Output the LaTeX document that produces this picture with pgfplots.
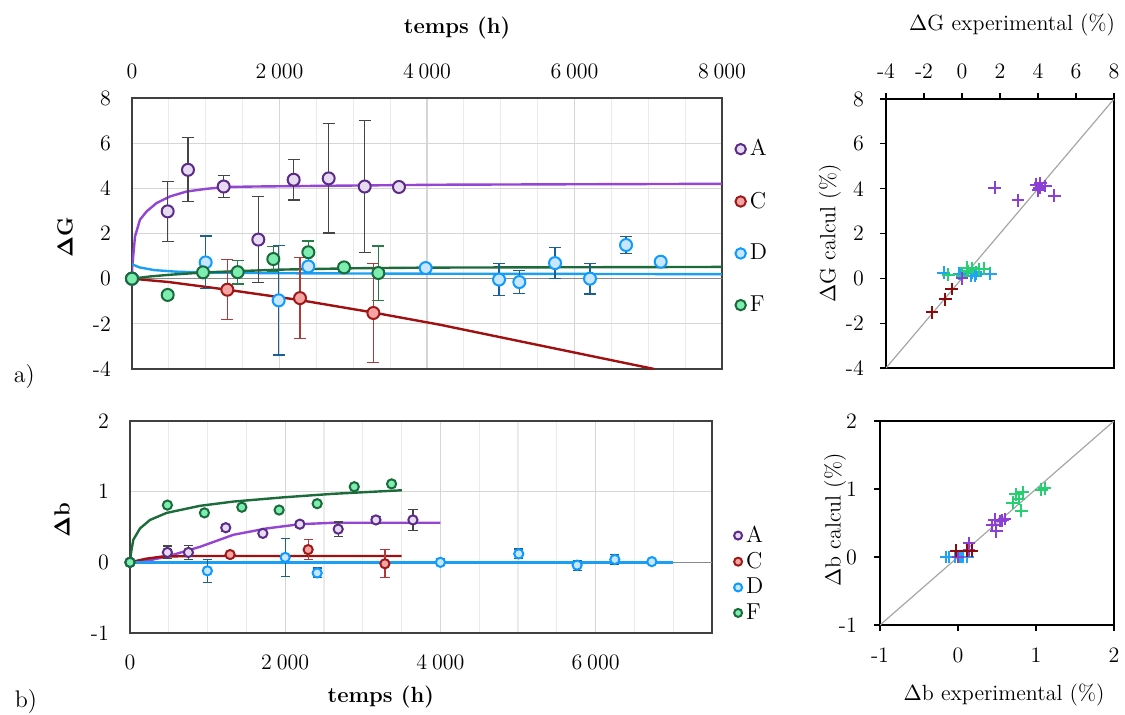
\documentclass[border=0pt]{standalone}
\usepackage{pgfplots}
\pgfplotsset{compat=1.18}
\definecolor{Aline}{HTML}{9445D4}
\definecolor{Aedge}{HTML}{5C2A87}
\definecolor{Afill}{HTML}{E6DBF1}
\definecolor{Aerr}{HTML}{454545}
\definecolor{Cline}{HTML}{A01010}
\definecolor{Cedge}{HTML}{9E1A1A}
\definecolor{Cfill}{HTML}{F5A3A3}
\definecolor{Cerr}{HTML}{B03A3A}
\definecolor{Dline}{HTML}{1A9FF2}
\definecolor{Dedge}{HTML}{0E9BFF}
\definecolor{Dfill}{HTML}{C8E6FF}
\definecolor{Derr}{HTML}{1D5F93}
\definecolor{Fline}{HTML}{1C6B3A}
\definecolor{Fedge}{HTML}{1A6B3C}
\definecolor{Ffill}{HTML}{7DEDB0}
\definecolor{Ferr}{HTML}{2A7A4A}
\definecolor{SA}{HTML}{8B3FD5}
\definecolor{SC}{HTML}{8B0A0A}
\definecolor{SD}{HTML}{1FA3F2}
\definecolor{SF}{HTML}{25D070}
\definecolor{zeroline}{HTML}{8A8A8A}

\pgfplotsset{
  timeaxis/.style={
    scale only axis, anchor=south west,
    grid=both,
    major grid style={draw=black!16, line width=0.6pt},
    minor grid style={draw=black!8, line width=0.6pt},
    axis line style={draw=black!75, line width=0.7pt},
    major tick length=0pt, minor tick length=0pt,
    tick label style={font=\fontsize{11}{12}\selectfont},
    /pgf/number format/assume math mode=true,
    /pgf/number format/1000 sep={\hspace{0.22em}},
    label style={font=\fontsize{11}{12}\selectfont},
    legend style={draw=none, fill=none, font=\fontsize{11.5}{12}\selectfont},
    legend cell align=left,
    legend image code/.code={\draw[#1] plot coordinates {(0.12cm,0cm)};},
    clip=true,
  },
  scataxis/.style={
    scale only axis, anchor=south west,
    tick align=outside, major tick length=3pt,
    tick style={draw=black, line width=0.6pt},
    axis line style={draw=black, line width=0.6pt},
    tick label style={font=\fontsize{11}{12}\selectfont},
    /pgf/number format/assume math mode=true,
    label style={font=\fontsize{11}{12}\selectfont},
    clip=true,
  },
  mkA/.style={only marks, mark=*, mark size=#1, mark options={fill=Afill, draw=Aedge, line width=1pt}},
  mkC/.style={only marks, mark=*, mark size=#1, mark options={fill=Cfill, draw=Cedge, line width=1pt}},
  mkD/.style={only marks, mark=*, mark size=#1, mark options={fill=Dfill, draw=Dedge, line width=1pt}},
  mkF/.style={only marks, mark=*, mark size=#1, mark options={fill=Ffill, draw=Fedge, line width=1pt}},
}

\begin{document}
\begin{tikzpicture}
\path[use as bounding box] (0pt,0pt) rectangle (562.5pt,357pt);

% ---------------- a) Delta G vs time ----------------
\begin{axis}[timeaxis,
  at={(66pt,172.5pt)}, width=295pt, height=135.5pt,
  xmin=0, xmax=8000, ymin=-4, ymax=8,
  xtick={0,2000,4000,6000,8000}, ytick={-4,-2,0,2,4,6,8},
  minor xtick={500,1000,1500,2500,3000,3500,4500,5000,5500,6500,7000,7500},
  xticklabel pos=right,
  xticklabel style={yshift=6pt},
  yticklabel style={xshift=-7pt},
  xlabel={\textbf{temps (h)}},
  xlabel style={at={(rel axis cs:0.551,1.258)}, anchor=center},
  ylabel={$\mathbf{\Delta}$\textbf{G}},
  ylabel style={at={(rel axis cs:-0.1136,0.487)}, anchor=center},
  legend style={at={(rel axis cs:1.012,0.878)}, anchor=north west, row sep=12.5pt},
]
\addplot[zeroline, line width=0.7pt, forget plot] coordinates {(0,0) (8000,0)};
% model curves
\addplot[Aline, line width=1.2pt, forget plot] coordinates {
(0,0) (4,0.55) (41,1.87) (108,2.61) (199,2.98) (334,3.35) (515,3.64) (741,3.86)
(1013,3.98) (1284,4.06) (1645,4.08) (2549,4.11) (4176,4.16) (6000,4.18) (8000,4.2)};
\addplot[Cline, line width=1.2pt, forget plot] coordinates {
(0,0) (500,-0.15) (1293,-0.49) (2278,-0.95) (3273,-1.5) (4176,-2.04) (7080,-4.0)};
\addplot[Dline, line width=1.2pt, forget plot] coordinates {
(0,0.64) (100,0.5) (300,0.38) (600,0.31) (1000,0.27) (2000,0.24) (4000,0.22) (8000,0.2)};
\addplot[Fline, line width=1.2pt, forget plot] coordinates {
(0,0) (250,0.1) (500,0.17) (1000,0.28) (2000,0.4) (3000,0.46) (4000,0.49) (8000,0.52)};
% data A
\addplot[mkA=3pt, forget plot,
  error bars/.cd, y dir=both, y explicit, error mark=-,
  error bar style={draw=Aerr, line width=0.6pt},
  error mark options={rotate=90, draw=Aerr, line width=0.6pt, mark size=3pt}]
table[x index=0, y index=1, y error index=2] {
0 0 0
484 2.98 1.34
759 4.82 1.42
1243 4.08 0.5
1713 1.73 1.9
2192 4.38 0.9
2667 4.44 2.42
3155 4.08 2.93
3620 4.06 0.15
};
% data C
\addplot[mkC=3pt, forget plot,
  error bars/.cd, y dir=both, y explicit, error mark=-,
  error bar style={draw=Cerr, line width=0.6pt},
  error mark options={rotate=90, draw=Cerr, line width=0.6pt, mark size=3pt}]
table[x index=0, y index=1, y error index=2] {
1293 -0.49 1.33
2278 -0.86 1.78
3273 -1.52 2.2
};
\addplot[mkC=3pt, forget plot] coordinates {(0,0)};
% data D
\addplot[mkD=3pt, forget plot,
  error bars/.cd, y dir=both, y explicit, error mark=-,
  error bar style={draw=Derr, line width=0.6pt},
  error mark options={rotate=90, draw=Derr, line width=0.6pt, mark size=3pt}]
table[x index=0, y index=1, y error index=2] {
999 0.72 1.17
1989 -0.96 2.42
4977 -0.04 0.7
5252 -0.15 0.5
5736 0.69 0.68
6210 0.0 0.68
6699 1.49 0.37
};
\addplot[mkD=3pt, forget plot] coordinates {(0,0) (2391,0.54) (3982,0.47) (7169,0.75)};
% data F
\addplot[mkF=3pt, forget plot,
  error bars/.cd, y dir=both, y explicit, error mark=-,
  error bar style={draw=Ferr, line width=0.6pt},
  error mark options={rotate=90, draw=Ferr, line width=0.6pt, mark size=3pt}]
table[x index=0, y index=1, y error index=2] {
0 0 0
484 -0.72 0.15
963 0.28 0.1
1433 0.29 0.53
1916 0.87 0.56
2391 1.17 0.5
2875 0.5 0.18
3340 0.25 1.2
};
\addlegendimage{mkA=2.6pt}\addlegendentry{A}
\addlegendimage{mkC=2.6pt}\addlegendentry{C}
\addlegendimage{mkD=2.6pt}\addlegendentry{D}
\addlegendimage{mkF=2.6pt}\addlegendentry{F}
\end{axis}

% ---------------- b) Delta b vs time ----------------
\begin{axis}[timeaxis,
  at={(65pt,40.5pt)}, width=291pt, height=106pt,
  xmin=0, xmax=7500, ymin=-1, ymax=2,
  xtick={0,2000,4000,6000}, ytick={-1,0,1,2},
  minor xtick={500,1000,1500,2500,3000,3500,4500,5000,5500,6500,7000},
  xticklabel style={yshift=-7.5pt},
  yticklabel style={xshift=-7pt},
  xlabel={\textbf{temps (h)}},
  xlabel style={at={(rel axis cs:0.431,-0.302)}, anchor=center},
  ylabel={$\mathbf{\Delta}$\textbf{b}},
  ylabel style={at={(rel axis cs:-0.1168,0.533)}, anchor=center},
  legend style={at={(rel axis cs:1.027,0.545)}, anchor=north west, row sep=-0.6pt},
]
\addplot[zeroline, line width=0.7pt, forget plot] coordinates {(0,0) (7500,0)};
\addplot[Aline, line width=1.2pt, forget plot] coordinates {
(0,0) (250,0.03) (473,0.08) (903,0.22) (1333,0.39) (1763,0.48) (2193,0.54) (2623,0.56) (3053,0.56) (4000,0.56)};
\addplot[Cline, line width=1.2pt, forget plot] coordinates {
(0,0) (200,0.05) (400,0.08) (800,0.09) (3500,0.09)};
\addplot[Dline, line width=1.2pt, forget plot] coordinates {(0,0) (7000,0)};
\addplot[Fline, line width=1.2pt, forget plot] coordinates {
(0,0) (15,0.15) (43,0.32) (129,0.48) (258,0.6) (473,0.70) (903,0.8) (1333,0.86) (1978,0.92) (2623,0.97) (3504,1.02)};
% A
\addplot[mkA=2.3pt, forget plot,
  error bars/.cd, y dir=both, y explicit, error mark=-,
  error bar style={draw=Aerr, line width=0.6pt},
  error mark options={rotate=90, draw=Aerr, line width=0.6pt, mark size=2.3pt}]
table[x index=0, y index=1, y error index=2] {
482 0.14 0.09
753 0.14 0.1
1234 0.49 0.05
2189 0.54 0.04
2683 0.47 0.1
3169 0.60 0.05
3646 0.60 0.15
};
\addplot[mkA=2.3pt, forget plot] coordinates {(0,0) (1712,0.41)};
% C
\addplot[mkC=2.3pt, forget plot,
  error bars/.cd, y dir=both, y explicit, error mark=-,
  error bar style={draw=Cerr, line width=0.6pt},
  error mark options={rotate=90, draw=Cerr, line width=0.6pt, mark size=2.3pt}]
table[x index=0, y index=1, y error index=2] {
2296 0.18 0.14
3285 -0.02 0.2
};
\addplot[mkC=2.3pt, forget plot] coordinates {(0,0) (1290,0.11)};
% D
\addplot[mkD=2.3pt, forget plot,
  error bars/.cd, y dir=both, y explicit, error mark=-,
  error bar style={draw=Derr, line width=0.6pt},
  error mark options={rotate=90, draw=Derr, line width=0.6pt, mark size=2.3pt}]
table[x index=0, y index=1, y error index=2] {
997 -0.12 0.16
2000 0.07 0.27
2412 -0.15 0.07
4000 0 0.05
5010 0.12 0.07
5762 -0.04 0.07
6248 0.04 0.07
};
\addplot[mkD=2.3pt, forget plot] coordinates {(0,0) (6725,0.01)};
% F
\addplot[mkF=2.3pt, forget plot] coordinates {
(0,0) (482,0.81) (959,0.70) (1441,0.78) (1922,0.74) (2412,0.83) (2890,1.07) (3371,1.11)};
\addlegendimage{mkA=2pt}\addlegendentry{A}
\addlegendimage{mkC=2pt}\addlegendentry{C}
\addlegendimage{mkD=2pt}\addlegendentry{D}
\addlegendimage{mkF=2pt}\addlegendentry{F}
\end{axis}

% ---------------- scatter Delta G ----------------
\begin{axis}[scataxis,
  at={(443pt,173pt)}, width=114pt, height=134.5pt,
  xmin=-4, xmax=8, ymin=-4, ymax=8,
  xtick={-4,-2,...,8}, ytick={-4,-2,...,8},
  xtick pos=right, xticklabel pos=right, ytick pos=left,
  xticklabel style={yshift=3.5pt},
  yticklabel style={xshift=-4.5pt},
  xlabel={$\Delta$G experimental (\%)},
  xlabel style={at={(rel axis cs:0.553,1.275)}, anchor=center},
  ylabel={$\Delta$G calcul (\%)},
  ylabel style={at={(rel axis cs:-0.246,0.5)}, anchor=center},
]
\addplot[black!35, line width=0.6pt] coordinates {(-4,-4) (8,8)};
\addplot[only marks, mark=+, mark size=3.2pt, SD, line width=1pt] coordinates {
(0.72,0.27) (-0.96,0.25) (0.54,0.24) (0.47,0.12) (-0.04,0.21) (-0.15,0.21) (0.69,0.1) (0.0,0.2) (1.49,0.2) (0.75,0.2)};
\addplot[only marks, mark=+, mark size=3.2pt, SF, line width=1pt] coordinates {
(0,0.1) (-0.72,0.17) (0.28,0.28) (0.29,0.33) (0.87,0.4) (1.17,0.43) (0.5,0.46) (0.25,0.48)};
\addplot[only marks, mark=+, mark size=3.2pt, SA, line width=1pt] coordinates {
(0,0) (2.95,3.48) (4.85,3.68) (4.08,4.05) (1.72,4.05) (4.38,4.12) (4.12,4.25) (4.0,3.93) (3.9,4.18)};
\addplot[only marks, mark=+, mark size=3.2pt, SC, line width=1pt] coordinates {
(-0.55,-0.48) (-0.88,-0.93) (-1.58,-1.52)};
\end{axis}

% ---------------- scatter Delta b ----------------
\begin{axis}[scataxis,
  at={(440pt,44.5pt)}, width=117pt, height=102pt,
  xmin=-1, xmax=2, ymin=-1, ymax=2,
  xtick={-1,0,1,2}, ytick={-1,0,1,2},
  xtick pos=left, ytick pos=left,
  xticklabel style={yshift=-5pt},
  yticklabel style={xshift=-5pt},
  xlabel={$\Delta$b experimental (\%)},
  xlabel style={at={(rel axis cs:0.53,-0.343)}, anchor=center},
  ylabel={$\Delta$b calcul (\%)},
  ylabel style={at={(rel axis cs:-0.192,0.515)}, anchor=center},
]
\addplot[black!35, line width=0.6pt] coordinates {(-1,-1) (2,2)};
\addplot[only marks, mark=+, mark size=3.2pt, SD, line width=1pt] coordinates {
(-0.12,0) (0.07,0) (-0.15,0) (0,0) (0.12,0) (-0.04,0) (0.04,0) (0.01,0)};
\addplot[only marks, mark=+, mark size=3.2pt, SF, line width=1pt] coordinates {
(0.81,0.68) (0.70,0.8) (0.78,0.86) (0.74,0.92) (0.83,0.95) (1.07,0.99) (1.11,1.01)};
\addplot[only marks, mark=+, mark size=3.2pt, SA, line width=1pt] coordinates {
(0,0) (0.14,0.1) (0.14,0.2) (0.49,0.38) (0.44,0.47) (0.54,0.53) (0.47,0.55) (0.60,0.56) (0.57,0.54)};
\addplot[only marks, mark=+, mark size=3.2pt, SC, line width=1pt] coordinates {
(0.11,0.09) (0.18,0.09) (-0.02,0.09)};
\end{axis}

\node[font=\fontsize{12}{14}\selectfont] at (12.2pt,168.5pt) {a)};
\node[font=\fontsize{12}{14}\selectfont] at (13pt,6pt) {b)};
\end{tikzpicture}
\end{document}
